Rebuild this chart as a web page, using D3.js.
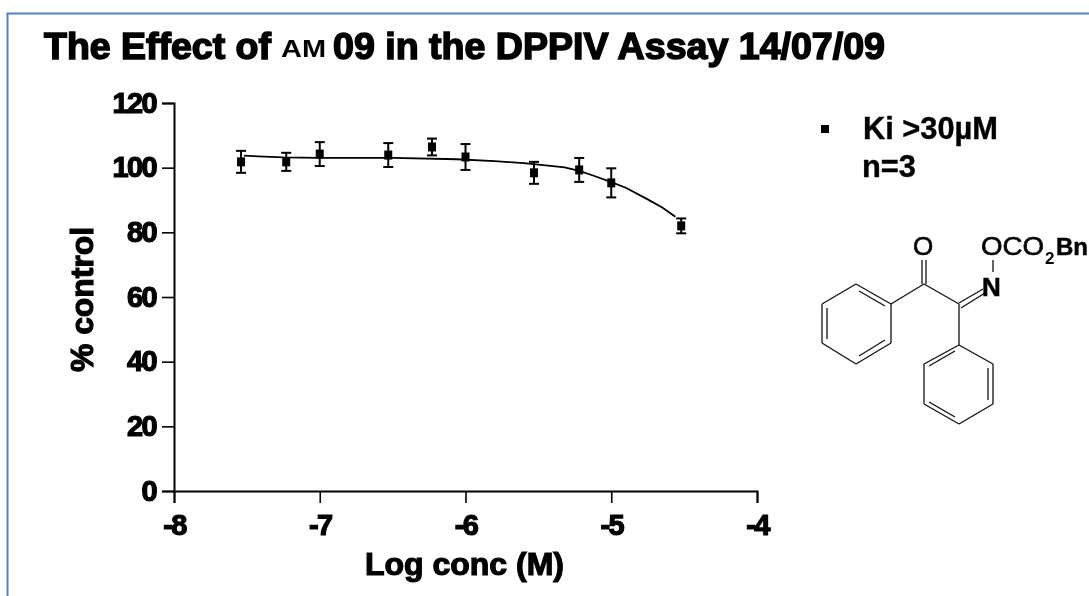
<!DOCTYPE html>
<html>
<head>
<meta charset="utf-8">
<script src="https://cdnjs.cloudflare.com/ajax/libs/d3/7.8.5/d3.min.js"></script>
<style>
	html, body { margin:0; padding:0; background:#fff; overflow:hidden; }
	svg { filter:blur(0.4px); }
	text { font-family:"Liberation Sans", Arial, sans-serif; font-weight:bold; fill:#000; }
	.thin { font-weight:normal; }
</style>
</head>
<body>
<div id="chart"></div>
<script>
// values
var log_conc = [-7.54, -7.23, -7.0, -6.53, -6.23, -6.0, -5.53, -5.22, -5.0, -4.52];
var pct_control = [101.8, 101.8, 104.2, 103.9, 106.4, 103.3, 98.4, 99.3, 95.3, 82.0];
var pct_error = [3.4, 2.8, 3.7, 3.7, 2.6, 4.0, 3.4, 3.7, 4.5, 2.3];

// fitted curve, traced
var curve_x = [-7.52, -7.25, -7.0, -6.5, -6.06, -5.8, -5.6, -5.45, -5.32, -5.22, -5.12, -5.0, -4.9, -4.75, -4.65, -4.56];
var curve_y = [103.7, 103.2, 103.0, 103.0, 102.6, 102.0, 101.4, 100.7, 100.1, 99.0, 97.5, 95.5, 93.8, 90.2, 87.7, 84.8];

var x_ticks = [-8, -7, -6, -5, -4];
var y_ticks = [0, 20, 40, 60, 80, 100, 120];

var svg = d3.select('#chart').append('svg').attr('width', 1089).attr('height', 596);

// blue frame, open on the right and bottom
svg.append('path').attr('d', 'M1089,13.5H7.5V596').attr('fill', 'none')
	.attr('stroke', '#4f81bd').attr('stroke-width', 2);

var x = d3.scaleLinear().domain([-8, -4]).range([174, 757]);
var y = d3.scaleLinear().domain([0, 120]).range([491, 103]);

function heavy(sel, w) {
	// the source type is very heavy, so thicken it a bit
	sel.attr('stroke', '#000').attr('stroke-width', w || 1.2);
}

var x_axis = svg.append('g').attr('transform', 'translate(0,491)')
	.call(d3.axisBottom(x).tickValues(x_ticks).tickSize(12).tickPadding(11).tickFormat(function(d) { return d; }));
var y_axis = svg.append('g').attr('transform', 'translate(174,0)')
	.call(d3.axisLeft(y).tickValues(y_ticks).tickSize(12).tickPadding(6));

[x_axis, y_axis].forEach(function(a) {
	a.select('.domain').attr('stroke-width', 2).attr('stroke', '#000');
	a.selectAll('.tick line').attr('stroke-width', 1.6).attr('stroke', '#000');
	a.selectAll('.tick text').style('font-size', '29px').attr('letter-spacing', -1.6).call(heavy);
});

// curve
var line = d3.line().x(function(d) { return x(d[0]); }).y(function(d) { return y(d[1]); });
svg.append('path').datum(d3.zip(curve_x, curve_y)).attr('d', line)
	.attr('fill', 'none').attr('stroke', '#000').attr('stroke-width', 1.8);

// points and error bars
var points = svg.selectAll('.pt').data(d3.range(log_conc.length)).enter().append('g').attr('class', 'pt');
points.append('line')
	.attr('x1', function(i) { return x(log_conc[i]); })
	.attr('x2', function(i) { return x(log_conc[i]); })
	.attr('y1', function(i) { return y(pct_control[i] + pct_error[i]); })
	.attr('y2', function(i) { return y(pct_control[i] - pct_error[i]); });
[1, -1].forEach(function(sign) {
	points.append('line')
		.attr('x1', function(i) { return x(log_conc[i]) - 5; })
		.attr('x2', function(i) { return x(log_conc[i]) + 5; })
		.attr('y1', function(i) { return y(pct_control[i] + sign * pct_error[i]); })
		.attr('y2', function(i) { return y(pct_control[i] + sign * pct_error[i]); });
});
points.selectAll('line').attr('stroke', '#000').attr('stroke-width', 2);
points.append('rect')
	.attr('x', function(i) { return x(log_conc[i]) - 4; })
	.attr('y', function(i) { return y(pct_control[i]) - 4.5; })
	.attr('width', 8).attr('height', 9).attr('fill', '#000');

// title
svg.append('text').attr('x', 44).attr('y', 59).style('font-size', '36px')
	.attr('textLength', 227).attr('lengthAdjust', 'spacingAndGlyphs').text('The Effect of').call(heavy, 1.5);
svg.append('text').attr('x', 281).attr('y', 57).style('font-size', '24px')
	.attr('textLength', 45).attr('lengthAdjust', 'spacingAndGlyphs').text('AM').attr('fill', '#1a2a44');
svg.append('text').attr('x', 333).attr('y', 59).style('font-size', '36px')
	.attr('textLength', 552).attr('lengthAdjust', 'spacingAndGlyphs').text('09 in the DPPIV Assay 14/07/09').call(heavy, 1.5);

// axis labels
svg.append('text').attr('x', 365).attr('y', 575).style('font-size', '32px')
	.attr('textLength', 199).attr('lengthAdjust', 'spacingAndGlyphs').text('Log conc (M)').call(heavy);
svg.append('text').attr('transform', 'translate(93,372) rotate(-90)').style('font-size', '32px')
	.attr('textLength', 145).attr('lengthAdjust', 'spacingAndGlyphs').text('% control').call(heavy);

// legend
svg.append('rect').attr('x', 821).attr('y', 125).attr('width', 8).attr('height', 8).attr('fill', '#000');
svg.append('text').attr('x', 863).attr('y', 139).style('font-size', '32px')
	.attr('textLength', 135).attr('lengthAdjust', 'spacingAndGlyphs').text('Ki >30µM').call(heavy, 0.4);
svg.append('text').attr('x', 862).attr('y', 177).style('font-size', '32px')
	.attr('textLength', 54).attr('lengthAdjust', 'spacingAndGlyphs').text('n=3').call(heavy, 0.4);

// structure drawing
var bonds = [
	[856,284,891,304],[891,304,891,343],[891,343,856,364],[856,364,822,343],[822,343,822,304],[822,304,856,284],
	[859,291,885,306],[885,340,859,356],[827,339,827,308],
	[891,304,924,284],[924,284,959,304],[959,304,959,345],
	[922,284,922,260],[926,284,926,260],
	[959,303,983,289],[961,308,985,293],
	[993,260,993,272],
	[959,345,993,364],[993,364,993,404],[993,404,959,424],[959,424,924,404],[924,404,924,364],[924,364,959,345],
	[955,351,929,366],[988,368,988,400],[955,417,929,402]
];
svg.selectAll('.bond').data(bonds).enter().append('line').attr('class', 'bond')
	.attr('x1', function(d) { return d[0]; }).attr('y1', function(d) { return d[1]; })
	.attr('x2', function(d) { return d[2]; }).attr('y2', function(d) { return d[3]; })
	.attr('stroke', '#111').attr('stroke-width', 1.3);

svg.append('text').attr('class', 'thin').attr('x', 913).attr('y', 255).style('font-size', '26px').text('O').call(heavy, 0.6);
svg.append('text').attr('x', 982).attr('y', 296).style('font-size', '26px').text('N').call(heavy, 0.5);
svg.append('text').attr('class', 'thin').attr('x', 981).attr('y', 255).style('font-size', '26px')
	.attr('textLength', 63).attr('lengthAdjust', 'spacingAndGlyphs').text('OCO').call(heavy, 0.6);
svg.append('text').attr('x', 1045).attr('y', 264).style('font-size', '17px').text('2');
svg.append('text').attr('x', 1056).attr('y', 255).style('font-size', '24px').text('Bn').call(heavy, 0.5);
</script>
</body>
</html>
